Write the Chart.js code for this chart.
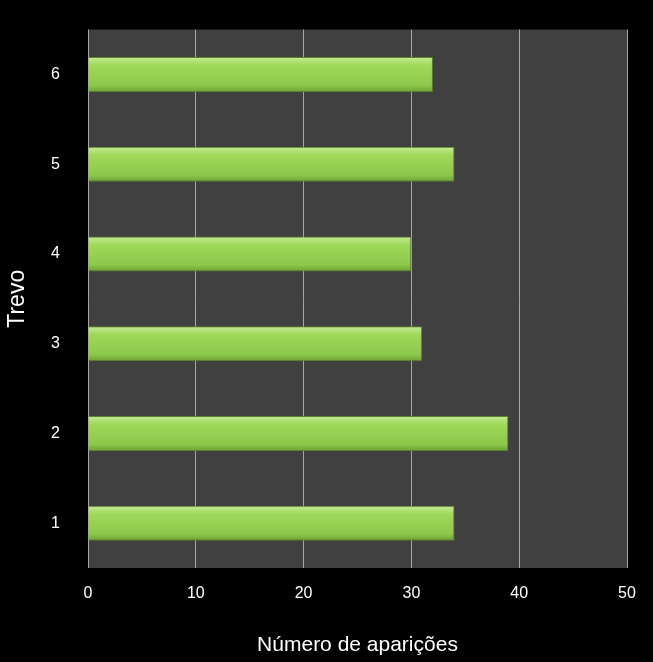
<!DOCTYPE html>
<html><head><meta charset="utf-8">
<script src="https://cdn.jsdelivr.net/npm/chart.js@4"></script>
<style>html,body{margin:0;background:#000;}#wrap{width:653px;height:662px;}</style>
</head><body><div id="wrap"><canvas id="c"></canvas></div>
<script>
"use strict";
const categories = ['6', '5', '4', '3', '2', '1'];
const values = [32, 34, 30, 31, 39, 34];
const xTicks = [0, 10, 20, 30, 40, 50];

const plotBg = {
    id: 'plotBg',
    beforeDraw(chart) {
        const a = chart.chartArea, ctx = chart.ctx;
        ctx.save();
        ctx.fillStyle = '#000';
        ctx.fillRect(0, 0, chart.width, chart.height);
        ctx.fillStyle = '#404040';
        ctx.fillRect(a.left, a.top, a.right - a.left, a.bottom - a.top);
        ctx.restore();
    }
};

function barFill(context) {
    const chart = context.chart;
    const ys = chart.scales && chart.scales.y;
    if (!ys || !chart.chartArea || context.type !== 'data') return '#92d050';
    const y = ys.getPixelForValue(context.dataIndex);
    const h = 36;
    if (!Number.isFinite(y)) return '#92d050';
    const g = chart.ctx.createLinearGradient(0, y - h / 2, 0, y + h / 2);
    g.addColorStop(0, '#c9ec9c');
    g.addColorStop(0.25, '#9fd95a');
    g.addColorStop(0.8, '#8cc84a');
    g.addColorStop(1, '#6e9e35');
    return g;
}

Chart.defaults.font.family = 'Liberation Sans, Arial, sans-serif';
Chart.defaults.color = '#ffffff';

new Chart(document.getElementById('c'), {
    type: 'bar',
    data: {
        labels: categories,
        datasets: [{
            data: values,
            backgroundColor: barFill,
            borderColor: '#5a8228',
            borderWidth: 1,
            barPercentage: 0.78,
            categoryPercentage: 0.5
        }]
    },
    options: {
        indexAxis: 'y',
        responsive: true,
        maintainAspectRatio: false,
        animation: false,
        layout: { padding: { left: 0, top: 14, right: 26, bottom: 0 } },
        plugins: { legend: { display: false }, tooltip: { enabled: false } },
        scales: {
            x: {
                min: 0, max: 50,
                afterBuildTicks: s => { s.ticks = xTicks.map(v => ({ value: v })); },
                afterFit: s => { s.height = 94; },
                grid: { color: '#a6a6a6', drawTicks: false, lineWidth: 1 },
                border: { display: false },
                ticks: { font: { size: 16 }, color: '#fff', padding: 16 },
                title: { display: true, text: 'Número de aparições', font: { size: 21 }, color: '#fff', padding: { top: 4 } }
            },
            y: {
                afterFit: s => { s.width = 88; },
                grid: { display: false },
                border: { display: false },
                ticks: { font: { size: 16 }, color: '#fff', padding: 20 },
                title: { display: true, text: 'Trevo', font: { size: 23 }, color: '#fff' }
            }
        }
    },
    plugins: [plotBg]
});
</script></body></html>
